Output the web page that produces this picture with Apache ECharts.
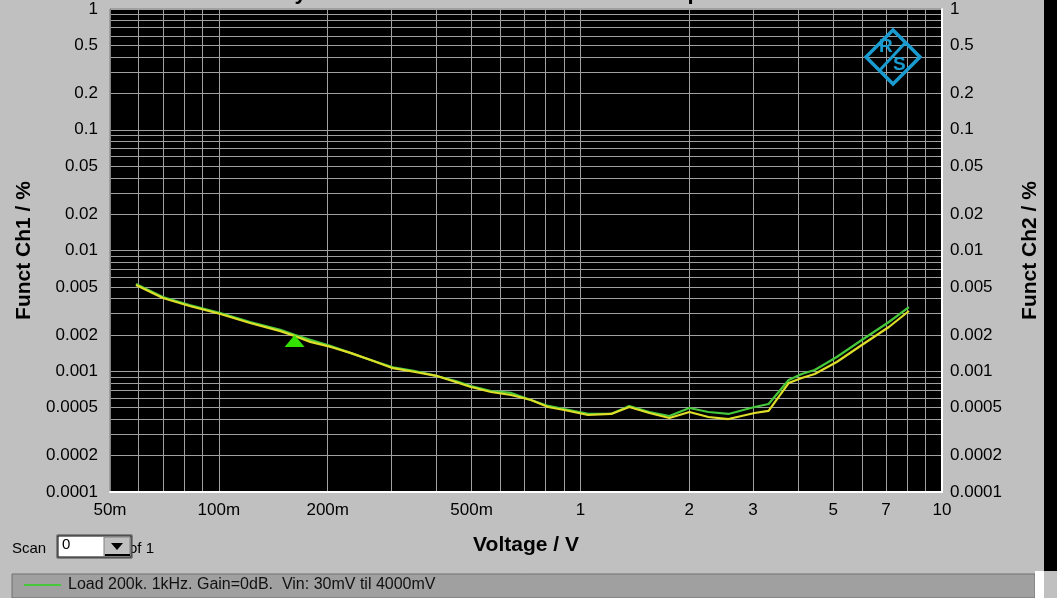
<!DOCTYPE html>
<html>
<head>
<meta charset="utf-8">
<script src="https://cdn.jsdelivr.net/npm/echarts@6/dist/echarts.min.js"></script>
<style>
html,body{margin:0;padding:0;background:#c0c0c0;}
#chart{width:1057px;height:598px;}
</style>
</head>
<body>
<div id="chart"></div>
<script>
// ---- data ----
const voltage = [0.059,0.070,0.083,0.101,0.122,0.148,0.162,0.179,0.204,0.231,0.263,0.303,0.346,0.403,0.452,0.498,0.566,0.643,0.730,0.814,0.902,1.05,1.216,1.365,1.551,1.762,2.002,2.259,2.567,3.031,3.314,3.766,4.092,4.446,5.116,6.001,7.131,8.10];
const functCh1 = [0.00528,0.00412,0.00354,0.00304,0.00256,0.00220,0.00200,0.00182,0.00162,0.00142,0.00124,0.00108,0.00101,0.00091,0.00083,0.000755,0.000686,0.000661,0.000578,0.000516,0.000487,0.000443,0.000443,0.000516,0.000460,0.000426,0.000496,0.000460,0.000443,0.000506,0.000536,0.000846,0.000949,0.001024,0.001312,0.001815,0.002558,0.003404];
const functCh2 = [0.00518,0.00404,0.00347,0.00298,0.00251,0.00215,0.00196,0.00175,0.00159,0.00142,0.00124,0.00106,0.00099,0.00091,0.000815,0.000741,0.000673,0.000636,0.000578,0.000506,0.000478,0.000434,0.000443,0.000506,0.000451,0.000410,0.000460,0.000418,0.000402,0.000451,0.000469,0.000799,0.000879,0.000949,0.001193,0.001650,0.002325,0.003155];
const markerPoint = [0.162, 0.00178];

const xTickValues = [0.05,0.1,0.2,0.5,1,2,3,5,7,10];
const xTickLabels = ['50m','100m','200m','500m','1','2','3','5','7','10'];
const xGridValues = [0.05,0.06,0.07,0.08,0.09,0.1,0.2,0.3,0.4,0.5,0.6,0.7,0.8,0.9,1,2,3,4,5,6,7,8,9,10];
const yTickValues = [1,0.5,0.2,0.1,0.05,0.02,0.01,0.005,0.002,0.001,0.0005,0.0002,0.0001];
const yTickLabels = ['1','0.5','0.2','0.1','0.05','0.02','0.01','0.005','0.002','0.001','0.0005','0.0002','0.0001'];
const yGridValues = [];
[0.0001,0.001,0.01,0.1].forEach(function(d){ for(let k=1;k<10;k++){ yGridValues.push(+(d*k).toPrecision(3)); } });
yGridValues.push(1);

const ch1Name = 'Load 200k. 1kHz. Gain=0dB.  Vin: 30mV til 4000mV';
const ch2Name = 'Funct Ch2';
const titleText = 'Linearity THD+N Ch1 and Ch2 at the DUT Output';

function nearestLabel(vals, labels, v){
  let best = 0, bd = Infinity;
  for (let i=0;i<vals.length;i++){ const d = Math.abs(Math.log10(vals[i]) - Math.log10(v)); if (d<bd){bd=d;best=i;} }
  return labels[best];
}

const FONT = '"Liberation Sans", Arial, sans-serif';
const chart = echarts.init(document.getElementById('chart'), null, {renderer:'canvas'});

function yAxisCfg(pos, name){
  return {
    type:'log', logBase:10, min:0.0001, max:1, position:pos,
    name:name, nameLocation:'middle', nameGap: pos==='left'?75:78,
    nameRotate: 90,
    nameTextStyle:{fontFamily:FONT, fontSize:21, fontWeight:'bold', color:'#000'},
    axisLine:{show:true, lineStyle:{color: pos==='left'?'#808080':'#ffffff', width: pos==='left'?1:2}},
    axisTick:{show:false, customValues:yGridValues},
    axisLabel:{customValues:yTickValues, margin: pos==='left'?12:8, color:'#000', fontFamily:FONT, fontSize:17,
      formatter:function(v){ return nearestLabel(yTickValues, yTickLabels, v); }},
    splitLine:{show: pos==='left', lineStyle:{color:'#a0a0a0', width:1}},
    minorTick:{show:false}, minorSplitLine:{show:false}
  };
}

const option = {
  backgroundColor:'#c0c0c0',
  animation:false,
  grid:{left:110, right:115, top:9, bottom:106, show:true, backgroundColor:'#000', borderColor:'#808080', borderWidth:1},
  xAxis:{
    type:'log', logBase:10, min:0.05, max:10,
    name:'Voltage / V', nameLocation:'middle', nameGap:43,
    nameTextStyle:{fontFamily:FONT, fontSize:21, fontWeight:'bold', color:'#000'},
    axisLine:{show:true, lineStyle:{color:'#ffffff', width:2}},
    axisTick:{show:false, customValues:xGridValues},
    axisLabel:{customValues:xTickValues, margin:10, color:'#000', fontFamily:FONT, fontSize:17,
      formatter:function(v){ return nearestLabel(xTickValues, xTickLabels, v); }},
    splitLine:{show:true, lineStyle:{color:'#a0a0a0', width:1}},
    minorTick:{show:false}, minorSplitLine:{show:false}
  },
  yAxis:[ yAxisCfg('left','Funct Ch1 / %'), yAxisCfg('right','Funct Ch2 / %') ],
  legend:{
    data:[ch1Name], left:24, top:577, z:20, itemWidth:37, itemHeight:2, itemGap:4,
    icon:'rect', padding:0, selectedMode:false,
    textStyle:{fontFamily:FONT, fontSize:16, color:'#111', padding:[0,0,0,2]}
  },
  series:[
    {name:ch1Name, type:'line', xAxisIndex:0, yAxisIndex:0, showSymbol:false, symbol:'none',
     data: voltage.map(function(v,i){return [v, functCh1[i]];}),
     lineStyle:{color:'#45c83a', width:2.2}, itemStyle:{color:'#45c83a'},
     markPoint:{symbol:'triangle', symbolSize:[20,12], silent:true, label:{show:false},
       itemStyle:{color:'#33e000'}, data:[{coord:markerPoint}]}
    },
    {name:ch2Name, type:'line', xAxisIndex:0, yAxisIndex:1, showSymbol:false, symbol:'none',
     data: voltage.map(function(v,i){return [v, functCh2[i]];}),
     lineStyle:{color:'#dede28', width:2.2}, itemStyle:{color:'#dede28'}
    }
  ],
  graphic:[
    {type:'text', left:215, top:-18, z:5, style:{text:titleText, fontFamily:FONT, fontSize:22, fontWeight:'bold', fill:'#000'}},
    // R&S logo
    {type:'polygon', z:30, shape:{points:[[893,30],[920,57],[893,84],[866,57]]}, style:{fill:'none', stroke:'#1a9bd0', lineWidth:3.5}},
    {type:'text', z:30, left:879, top:37, style:{text:'R', fontFamily:FONT, fontSize:19, fontWeight:'bold', fill:'#1a9bd0'}},
    {type:'text', z:30, left:893, top:55, style:{text:'S', fontFamily:FONT, fontSize:19, fontWeight:'bold', fill:'#1a9bd0'}},
    {type:'line', z:30, shape:{x1:880,y1:70,x2:905,y2:43}, style:{stroke:'#1a9bd0', lineWidth:3}},
    // Scan control
    {type:'text', left:12, top:541, style:{text:'Scan', fontFamily:FONT, fontSize:15, fill:'#000'}},
    {type:'text', left:129, top:541, z:1, style:{text:'of 1', fontFamily:FONT, fontSize:15, fill:'#000'}},
    {type:'rect', z:2, shape:{x:57,y:535,width:75,height:23}, style:{fill:'#ffffff', stroke:'#404040', lineWidth:1}},
    {type:'rect', z:2, shape:{x:58,y:536,width:73,height:21}, style:{fill:'#ffffff', stroke:'#000', lineWidth:1}},
    {type:'text', z:3, left:62, top:537, style:{text:'0', fontFamily:FONT, fontSize:15, fill:'#000'}},
    {type:'rect', z:3, shape:{x:104,y:537,width:26,height:19}, style:{fill:'#c0c0c0', stroke:'#808080', lineWidth:1}},
    {type:'polygon', z:4, shape:{points:[[111,543],[123,543],[117,550]]}, style:{fill:'#000'}},
    {type:'rect', z:4, shape:{x:105,y:554,width:25,height:2}, style:{fill:'#000'}},
    // legend bar
    {type:'rect', z:1, shape:{x:12,y:574,width:1023,height:24}, style:{fill:'#a0a0a0', stroke:'#707070', lineWidth:1}},
    {type:'rect', z:1, shape:{x:1035,y:571,width:9,height:27}, style:{fill:'#ffffff'}},
    {type:'rect', z:1, shape:{x:1044,y:0,width:13,height:571}, style:{fill:'#000000'}}
  ]
};
chart.setOption(option);
</script>
</body>
</html>
